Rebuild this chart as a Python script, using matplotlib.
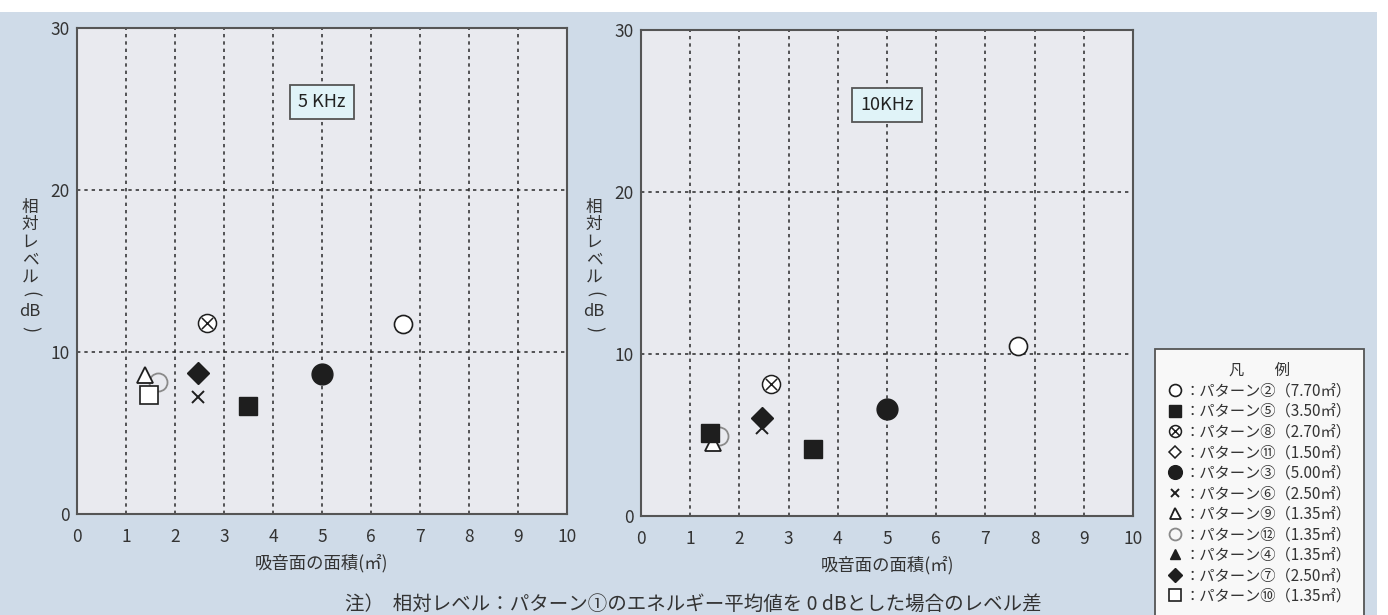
import matplotlib
matplotlib.use("Agg")
import matplotlib.pyplot as plt
from matplotlib.path import Path
from matplotlib.patches import Rectangle

plt.rcParams['font.family'] = ['Noto Sans CJK JP', 'DejaVu Sans']

# ---- data -------------------------------------------------------------
panel_titles = ["5 KHz", "10KHz"]
x_ticks = [0, 1, 2, 3, 4, 5, 6, 7, 8, 9, 10]
y_ticks = [0, 10, 20, 30]

series_labels = [
    "：パターン②（7.70㎡）",
    "：パターン⑤（3.50㎡）",
    "：パターン⑧（2.70㎡）",
    "：パターン⑪（1.50㎡）",
    "：パターン③（5.00㎡）",
    "：パターン⑥（2.50㎡）",
    "：パターン⑨（1.35㎡）",
    "：パターン⑫（1.35㎡）",
    "：パターン④（1.35㎡）",
    "：パターン⑦（2.50㎡）",
    "：パターン⑩（1.35㎡）",
]

# 5 KHz panel: (area, relative level) per pattern
x_5k = [[6.65], [3.49], [2.66], [], [4.99], [2.46], [1.38], [1.66], [], [2.46], [1.46]]
y_5k = [[11.7], [6.65], [11.8], [], [8.65], [7.2], [8.6], [8.15], [], [8.7], [7.35]]

# 10 KHz panel
x_10k = [[7.66], [3.49, 1.41], [2.65], [], [5.0], [2.46], [1.46], [1.58], [], [2.46], []]
y_10k = [[10.5], [4.15, 5.15], [8.15], [], [6.6], [5.45], [4.5], [4.95], [], [6.05], []]

# ---- marker styles ----------------------------------------------------
circ = Path.unit_circle()
cross_a = Path([(-0.62, -0.62), (0.62, 0.62)], [Path.MOVETO, Path.LINETO])
cross_b = Path([(-0.62, 0.62), (0.62, -0.62)], [Path.MOVETO, Path.LINETO])
circle_cross = Path.make_compound_path(circ, cross_a, cross_b)

ink = "#1e1e1e"
styles = [
    dict(marker="o", ms=13, mfc="white", mec=ink, mew=1.2, zorder=4),
    dict(marker="s", ms=13, mfc=ink, mec=ink, mew=1.0, zorder=5),
    dict(marker=circle_cross, ms=13, mfc="white", mec=ink, mew=1.1, zorder=4),
    dict(marker="D", ms=9, mfc="white", mec=ink, mew=1.1, zorder=4),
    dict(marker="o", ms=15, mfc=ink, mec=ink, mew=1.0, zorder=4),
    dict(marker="x", ms=9, mfc=ink, mec=ink, mew=1.4, zorder=4),
    dict(marker="^", ms=12, mfc="white", mec=ink, mew=1.3, zorder=4),
    dict(marker="o", ms=13, mfc="none", mec="#8a8a8a", mew=1.3, zorder=3),
    dict(marker="^", ms=10, mfc=ink, mec=ink, mew=1.0, zorder=4),
    dict(marker="D", ms=11, mfc=ink, mec=ink, mew=1.0, zorder=4),
    dict(marker="s", ms=13, mfc="white", mec=ink, mew=1.2, zorder=5),
]

W, H = 1388, 615
fig = plt.figure(figsize=(W / 100, H / 100), dpi=100, facecolor="white")

# tinted backdrop
fig.patches.append(Rectangle((0, 0), 1377 / W, (H - 12) / H, transform=fig.transFigure,
                             facecolor="#cfdbe8", edgecolor="none", zorder=-10))

axes_boxes = [
    (77 / W, (H - 514) / H, 490 / W, 486 / H),
    (641 / W, (H - 516) / H, 492 / W, 486 / H),
]
title_boxes = [(322, 102), (887, 105)]
ylabel_x = [30, 594]
data_x = [x_5k, x_10k]
data_y = [y_5k, y_10k]

# vertical axis caption, one glyph per row (brackets turned for vertical writing)
ylabel_rows = [("相", 0, 12), ("対", 0, 12), ("レ", 0, 12), ("ベ", 0, 12),
               ("ル", 0, 12), ("(", -90, 13), ("dB", 0, 12), (")", -90, 13)]
ylabel_top = 207
ylabel_step = 17.5

handles = []
for p in range(2):
    ax = fig.add_axes(axes_boxes[p])
    ax.set_facecolor("#e9eaef")
    ax.set_xlim(0, 10)
    ax.set_ylim(0, 30)
    ax.set_xticks(x_ticks)
    ax.set_yticks(y_ticks)
    ax.set_xticklabels([str(v) for v in x_ticks], fontsize=12.5, color="#333333")
    ax.set_yticklabels([str(v) for v in y_ticks], fontsize=12.5, color="#333333")
    ax.tick_params(axis="both", length=0)
    ax.tick_params(axis="x", pad=10)
    ax.tick_params(axis="y", pad=5)
    for sp in ax.spines.values():
        sp.set_color("#555555")
        sp.set_linewidth(1.5)
    ax.grid(True, color="#2a2a2a", linestyle=(0, (2.2, 2.6)), linewidth=1.1)
    ax.set_axisbelow(True)
    ax.set_xlabel("吸音面の面積(㎡)", fontsize=12.5, color="#333333", labelpad=6)

    for i, st in enumerate(styles):
        st = dict(st)
        z = st.pop("zorder")
        ln, = ax.plot(data_x[p][i], data_y[p][i], linestyle="none", zorder=z,
                      clip_on=False, **st)
        if p == 0:
            handles.append(ln)

    tx, ty = title_boxes[p]
    ax.text(tx / W, 1 - ty / H, panel_titles[p], transform=fig.transFigure,
            ha="center", va="center", fontsize=13, color="#222222",
            bbox=dict(boxstyle="square,pad=0.45", facecolor="#e0f3f8",
                      edgecolor="#555555", linewidth=1.3), zorder=6)

    for k, (ch, rot, fs) in enumerate(ylabel_rows):
        fig.text(ylabel_x[p] / W, 1 - (ylabel_top + k * ylabel_step) / H, ch,
                 ha="center", va="center", fontsize=fs, color="#333333",
                 rotation=rot)

leg = fig.legend(handles, series_labels, title="凡　　例",
                 loc="upper left", bbox_to_anchor=(1155 / W, 1 - 349 / H),
                 bbox_transform=fig.transFigure,
                 fontsize=11, title_fontsize=11, markerscale=0.66,
                 frameon=True, fancybox=False, framealpha=1,
                 facecolor="#f8f8f8", edgecolor="#555555",
                 handlelength=0.9, handletextpad=0.15, labelspacing=0.23,
                 borderpad=0.85, borderaxespad=0)
leg.get_frame().set_linewidth(1.3)
for t in leg.get_texts():
    t.set_color("#333333")
leg.get_title().set_color("#333333")

fig.text(693 / W, 1 - 604 / H,
         "注）  相対レベル：パターン①のエネルギー平均値を 0 dBとした場合のレベル差",
         ha="center", va="center", fontsize=14, color="#333333")

fig.savefig("out.png", dpi=100, facecolor="white")
